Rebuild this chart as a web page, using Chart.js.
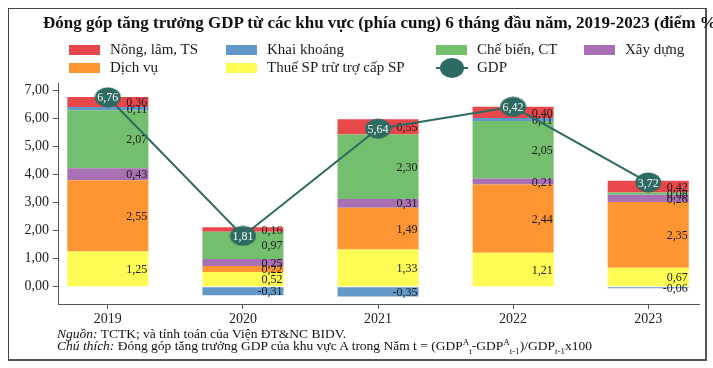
<!DOCTYPE html>
<html><head><meta charset="utf-8">
<script src="https://cdn.jsdelivr.net/npm/chart.js@4.4.1/dist/chart.umd.min.js"></script>
<style>
html,body{margin:0;padding:0;background:#fff;}
body{width:713px;height:368px;position:relative;overflow:hidden;font-family:"Liberation Serif","Times New Roman",serif;color:#1a1a1a;}
#frame{position:absolute;left:8px;top:8px;width:696px;height:350px;border:1px solid #444;border-right:2px solid #555;border-bottom:2px solid #555;}
#chart{position:absolute;left:0;top:0;}
#title{position:absolute;left:43px;top:13px;font-weight:bold;font-size:17px;white-space:nowrap;color:#111;}
.lg{position:absolute;font-size:15px;white-space:nowrap;line-height:16px;}
.sw{position:absolute;width:31px;height:10px;}
#foot{position:absolute;left:57px;top:328px;font-size:13.5px;line-height:12px;white-space:nowrap;color:#111;}
#foot sup,#foot sub{font-size:9px;line-height:0;}
</style></head>
<body>
<div id="frame"></div>
<canvas id="chart" width="713" height="368"></canvas>
<div id="title">Đóng góp tăng trưởng GDP từ các khu vực (phía cung) 6 tháng đầu năm, 2019-2023 (điểm %)</div>
<div id="legend"></div>
<div id="foot"><i>Nguồn:</i> TCTK; và tính toán của Viện ĐT&amp;NC BIDV.<br><i>Chú thích:</i> Đóng góp tăng trưởng GDP của khu vực A trong Năm t = (GDP<sup>A</sup><sub>t</sub>-GDP<sup>A</sup><sub>t-1</sub>)/GDP<sub>t-1</sub>x100</div>
<script>
// ---- data ----
const years = ['2019', '2020', '2021', '2022', '2023'];
const nongLam = [0.36, 0.16, 0.55, 0.40, 0.42];
const khaiKhoang = [0.11, -0.31, -0.35, 0.11, -0.06];
const cheBien = [2.07, 0.97, 2.30, 2.05, 0.08];
const xayDung = [0.43, 0.25, 0.31, 0.21, 0.26];
const dichVu = [2.55, 0.22, 1.49, 2.44, 2.35];
const thueSP = [1.25, 0.52, 1.33, 1.21, 0.67];
const gdp = [6.76, 1.81, 5.64, 6.42, 3.72];
const yTicks = [0, 1, 2, 3, 4, 5, 6, 7];

const C = {
  red: '#e8484b', blue: '#6399c9', green: '#74bf6e', purple: '#a970b4',
  orange: '#fd9632', yellow: '#fffb55', teal: '#2d6a62'
};

// stacking order bottom -> top
const barSeries = [
  {name: 'Thuế SP trừ trợ cấp SP', data: thueSP, color: C.yellow},
  {name: 'Dịch vụ', data: dichVu, color: C.orange},
  {name: 'Xây dựng', data: xayDung, color: C.purple},
  {name: 'Chế biến, CT', data: cheBien, color: C.green},
  {name: 'Khai khoáng', data: khaiKhoang, color: C.blue},
  {name: 'Nông, lâm, TS', data: nongLam, color: C.red}
];

const fmt = v => v.toFixed(2).replace('.', ',');
const serif = '"Liberation Serif","Times New Roman",serif';

// ellipse marker
function ellipse(w, h, color) {
  const c = document.createElement('canvas');
  c.width = w; c.height = h;
  const g = c.getContext('2d');
  g.fillStyle = color;
  g.beginPath();
  g.ellipse(w / 2, h / 2, w / 2 - 0.5, h / 2 - 0.5, 0, 0, Math.PI * 2);
  g.fill();
  return c;
}
const marker = ellipse(27, 21, C.teal);

// ---- legend (HTML) ----
const legendItems = [
  {name: 'Nông, lâm, TS', color: C.red, col: 0, row: 0},
  {name: 'Khai khoáng', color: C.blue, col: 1, row: 0},
  {name: 'Chế biến, CT', color: C.green, col: 2, row: 0},
  {name: 'Xây dựng', color: C.purple, col: 3, row: 0},
  {name: 'Dịch vụ', color: C.orange, col: 0, row: 1},
  {name: 'Thuế SP trừ trợ cấp SP', color: C.yellow, col: 1, row: 1},
  {name: 'GDP', color: C.teal, col: 2, row: 1, line: true}
];
const colX = [69, 226, 436, 584];
const rowY = [50, 68];
const lg = document.getElementById('legend');
legendItems.forEach(it => {
  const x = colX[it.col], y = rowY[it.row];
  if (it.line) {
    const l = document.createElement('div');
    l.style.cssText = `position:absolute;left:${x}px;top:${y - 1}px;width:32px;height:2px;background:${it.color}`;
    lg.appendChild(l);
    const e = document.createElement('div');
    e.style.cssText = `position:absolute;left:${x + 4}px;top:${y - 10}px;width:24px;height:20px;border-radius:50%;background:${it.color}`;
    lg.appendChild(e);
  } else {
    const s = document.createElement('div');
    s.className = 'sw';
    s.style.left = x + 'px'; s.style.top = (y - 5) + 'px'; s.style.background = it.color;
    lg.appendChild(s);
  }
  const t = document.createElement('div');
  t.className = 'lg';
  t.textContent = it.name;
  t.style.left = (x + 41) + 'px'; t.style.top = (y - 9) + 'px';
  lg.appendChild(t);
});

// ---- plugins ----
const labelPlugin = {
  id: 'labels',
  beforeDatasetDraw(chart, args) {
    if (args.index !== barSeries.length) return;
    const ctx = chart.ctx;
    ctx.save();
    ctx.font = '12px ' + serif;
    ctx.fillStyle = '#1a1a1a';
    ctx.textAlign = 'right';
    ctx.textBaseline = 'middle';
    barSeries.forEach((s, di) => {
      const meta = chart.getDatasetMeta(di);
      meta.data.forEach((el, i) => {
        const p = el.getProps(['x', 'y', 'base', 'width'], true);
        ctx.fillText(fmt(s.data[i]), p.x + p.width / 2 - 1, (p.y + p.base) / 2 + 1);
      });
    });
    ctx.restore();
  },
  afterDatasetsDraw(chart) {
    const ctx = chart.ctx;
    const meta = chart.getDatasetMeta(barSeries.length);
    ctx.save();
    ctx.font = '12px ' + serif;
    ctx.fillStyle = '#ffffff';
    ctx.textAlign = 'center';
    ctx.textBaseline = 'middle';
    meta.data.forEach((el, i) => ctx.fillText(fmt(gdp[i]), el.x, el.y + 1));
    ctx.restore();
  }
};

const datasets = barSeries.map(s => ({
  type: 'bar', label: s.name,
  data: s.data.map((v, i) => ({x: i, y: v})),
  backgroundColor: s.color, borderWidth: 0, stack: 'sectors', order: 1,
  categoryPercentage: 1, barPercentage: 0.6
}));
datasets.push({
  type: 'line', label: 'GDP', stack: 'gdp', order: 0,
  data: gdp.map((v, i) => ({x: i, y: v})),
  borderColor: C.teal, borderWidth: 2, fill: false, tension: 0,
  pointStyle: marker, pointRadius: 12
});

new Chart(document.getElementById('chart'), {
  type: 'bar',
  data: {datasets},
  plugins: [labelPlugin],
  options: {
    responsive: false, animation: false,
    layout: {padding: {top: 83, right: 12, left: 0, bottom: 0}},
    plugins: {legend: {display: false}, tooltip: {enabled: false}, title: {display: false}},
    scales: {
      x: {
        type: 'linear', min: -0.369, max: 4.376, offset: false,
        afterBuildTicks: sc => { sc.ticks = years.map((y, i) => ({value: i})); },
        afterFit: sc => { sc.height = 64; },
        grid: {display: true, offset: false, drawOnChartArea: false, tickLength: 5, tickColor: '#555'},
        border: {color: '#555', width: 1},
        ticks: {callback: v => years[v], font: {family: serif, size: 14}, color: '#222', padding: 2, maxRotation: 0}
      },
      y: {
        type: 'linear', stacked: true, min: -0.62, max: 7.27,
        afterBuildTicks: sc => { sc.ticks = yTicks.map(v => ({value: v})); },
        afterFit: sc => { sc.width = 58; },
        grid: {display: true, drawOnChartArea: false, tickLength: 5, tickColor: '#555'},
        border: {color: '#555', width: 1},
        ticks: {callback: v => fmt(v), font: {family: serif, size: 14}, color: '#222', padding: 4}
      }
    }
  }
});
</script>
</body></html>
